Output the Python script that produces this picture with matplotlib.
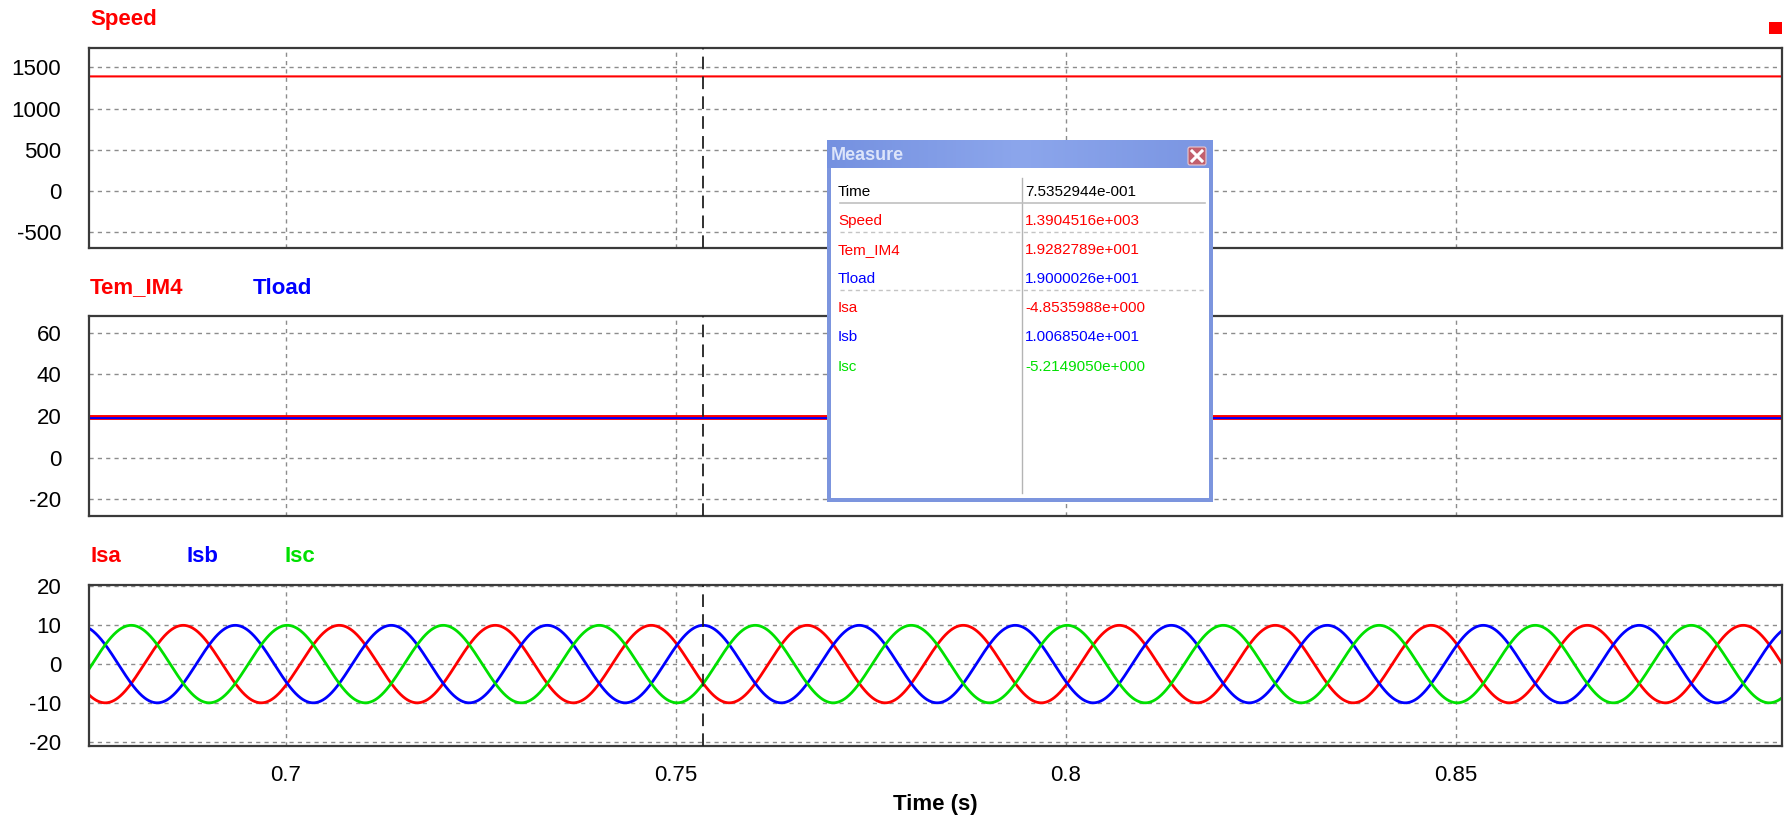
#!/usr/bin/env python3
"""
PSIM-style scope capture: rotor speed, torque and stator currents
with a Measure window overlaid at the cursor.
Produces: out.png
"""

import matplotlib
matplotlib.use('Agg')
import matplotlib.pyplot as plt
import matplotlib.patches as mpatches
import numpy as np

plt.rcParams['font.family'] = ['Liberation Sans', 'DejaVu Sans']
plt.rcParams['axes.unicode_minus'] = False

# ---- values ----
t_range = [0.67478, 0.89183]          # visible time window (s)
cursor_time = 0.75352944

speed_value = 1390.4516               # rpm, flat
tem_value = 19.282789                 # electromagnetic torque
tload_value = 19.000026               # load torque

i_amplitude = 9.9                     # stator current peak (A)
i_freq = 50.0                         # Hz
i_phase_shift = [2 * np.pi / 3, 0.0, -2 * np.pi / 3]   # Isa, Isb, Isc (Isb peaks at cursor)

speed_ticks = [-500, 0, 500, 1000, 1500]
torque_ticks = [-20, 0, 20, 40, 60]
current_ticks = [-20, -10, 0, 10, 20]
time_ticks = [0.7, 0.75, 0.8, 0.85]
time_labels = ['0.7', '0.75', '0.8', '0.85']

measure_names = ['Time', 'Speed', 'Tem_IM4', 'Tload', 'Isa', 'Isb', 'Isc']
measure_values = ['7.5352944e-001', '1.3904516e+003', '1.9282789e+001',
                  '1.9000026e+001', '-4.8535988e+000', '1.0068504e+001',
                  '-5.2149050e+000']

RED, BLUE, GREEN = '#FF0000', '#0000FF', '#00E000'
measure_colors = ['black', RED, RED, BLUE, RED, BLUE, GREEN]

W, H = 1786, 815
fig = plt.figure(figsize=(W / 100, H / 100), dpi=100)


def px_axes(x0, y0, x1, y1):
    # axes from pixel box (top-left origin)
    return fig.add_axes([x0 / W, 1 - y1 / H, (x1 - x0) / W, (y1 - y0) / H])


def style_axes(ax, ylim, yticks, show_x=False):
    ax.set_xlim(t_range)
    ax.set_ylim(ylim)
    ax.set_yticks(yticks)
    ax.set_xticks(time_ticks)
    ax.grid(True, color='#8C8C8C', linestyle=(0, (3, 3)), linewidth=1.0)
    ax.tick_params(length=0, labelsize=16, pad=20)
    ax.tick_params(axis='x', pad=14)
    if show_x:
        ax.set_xticklabels(time_labels)
    else:
        ax.set_xticklabels([])
    for sp in ax.spines.values():
        sp.set_color('#3A3A3A')
        sp.set_linewidth(1.6)
    ax.axvline(cursor_time, color='#202020', lw=1.3, ls=(0, (7, 4)), zorder=5)


t = np.linspace(t_range[0], t_range[1], 4000)

# ---- Speed ----
ax1 = px_axes(89, 48, 1782, 248)
ax1.plot(t, np.full_like(t, speed_value), color=RED, lw=1.5)
style_axes(ax1, (-690, 1735), speed_ticks)
fig.text(90 / W, 1 - 20 / H, 'Speed', color=RED, fontsize=16,
         fontweight='bold', va='center')

# ---- Torque ----
ax2 = px_axes(89, 316, 1782, 516)
ax2.plot(t, np.full_like(t, tem_value), color=RED, lw=3.5)
ax2.plot(t, np.full_like(t, tload_value), color=BLUE, lw=1.4)
style_axes(ax2, (-28, 68), torque_ticks)
fig.text(90 / W, 1 - 288 / H, 'Tem_IM4', color=RED, fontsize=16,
         fontweight='bold', va='center')
fig.text(253 / W, 1 - 288 / H, 'Tload', color=BLUE, fontsize=16,
         fontweight='bold', va='center')

# ---- Currents ----
ax3 = px_axes(89, 585, 1782, 745.5)
omega = 2 * np.pi * i_freq
for shift, col in zip(i_phase_shift, [RED, BLUE, GREEN]):
    ax3.plot(t, i_amplitude * np.cos(omega * (t - cursor_time) + shift),
             color=col, lw=2.0)
style_axes(ax3, (-20.8, 20.2), current_ticks, show_x=True)
ax3.set_xlabel('Time (s)', fontsize=16, fontweight='bold', labelpad=6)
for name, col, xp in zip(['Isa', 'Isb', 'Isc'], [RED, BLUE, GREEN], [90, 187, 285]):
    fig.text(xp / W, 1 - 557 / H, name, color=col, fontsize=16,
             fontweight='bold', va='center')

# small red marker top-right
fig.patches.append(mpatches.Rectangle((1769 / W, 1 - 34 / H), 13 / W, 12 / H,
                                      transform=fig.transFigure,
                                      facecolor=RED, edgecolor='none'))

# ---- Measure window (drawn in pixel coords) ----
bx0, by0, bx1, by1 = 827, 140, 1213, 502
axm = px_axes(bx0, by0, bx1, by1)
axm.set_xlim(bx0, bx1)
axm.set_ylim(by1, by0)
axm.axis('off')
axm.add_patch(mpatches.Rectangle((bx0, by0), bx1 - bx0, by1 - by0,
                                 facecolor='#7C95DE', edgecolor='none'))
grad = np.linspace(0, 1, 256).reshape(1, -1)
axm.imshow(grad, extent=(bx0, bx1, 168, by0), aspect='auto',
           cmap=matplotlib.colors.LinearSegmentedColormap.from_list(
               'bar', ['#7591E0', '#8CA6EC', '#7A95E2']), zorder=1)
axm.add_patch(mpatches.Rectangle((831, 168), 1209 - 831, 498 - 168,
                                 facecolor='white', edgecolor='none', zorder=2))
axm.text(831, 155, 'Measure', color='#DCE4FA', fontsize=13,
         fontweight='bold', va='center', zorder=3)
axm.add_patch(mpatches.FancyBboxPatch((1188, 147), 18, 18,
                                      boxstyle='round,pad=0,rounding_size=2',
                                      facecolor='#C25F6C', edgecolor='#E8C8D0',
                                      lw=0.8, zorder=3))
axm.plot([1192, 1202], [151, 161], color='white', lw=2.2, zorder=4)
axm.plot([1192, 1202], [161, 151], color='white', lw=2.2, zorder=4)

axm.plot([1022, 1022], [178, 493], color='#B4B4B4', lw=1.0, zorder=3)
axm.plot([840, 1205], [203, 203], color='#C0C0C0', lw=1.2, zorder=3)
for yl in [232, 290]:
    axm.plot([840, 1205], [yl, yl], color='#C4C4C4', lw=1.0,
             ls=(0, (3, 2.5)), zorder=3)

row_y = [192, 221, 250, 279, 308, 337, 367]
for name, val, col, yy in zip(measure_names, measure_values, measure_colors, row_y):
    axm.text(838, yy, name, color=col, fontsize=11, va='center', zorder=4)
    axm.text(1025, yy, val, color=col, fontsize=11, va='center', zorder=4)

fig.savefig('out.png', dpi=100, facecolor='white')
plt.close(fig)
